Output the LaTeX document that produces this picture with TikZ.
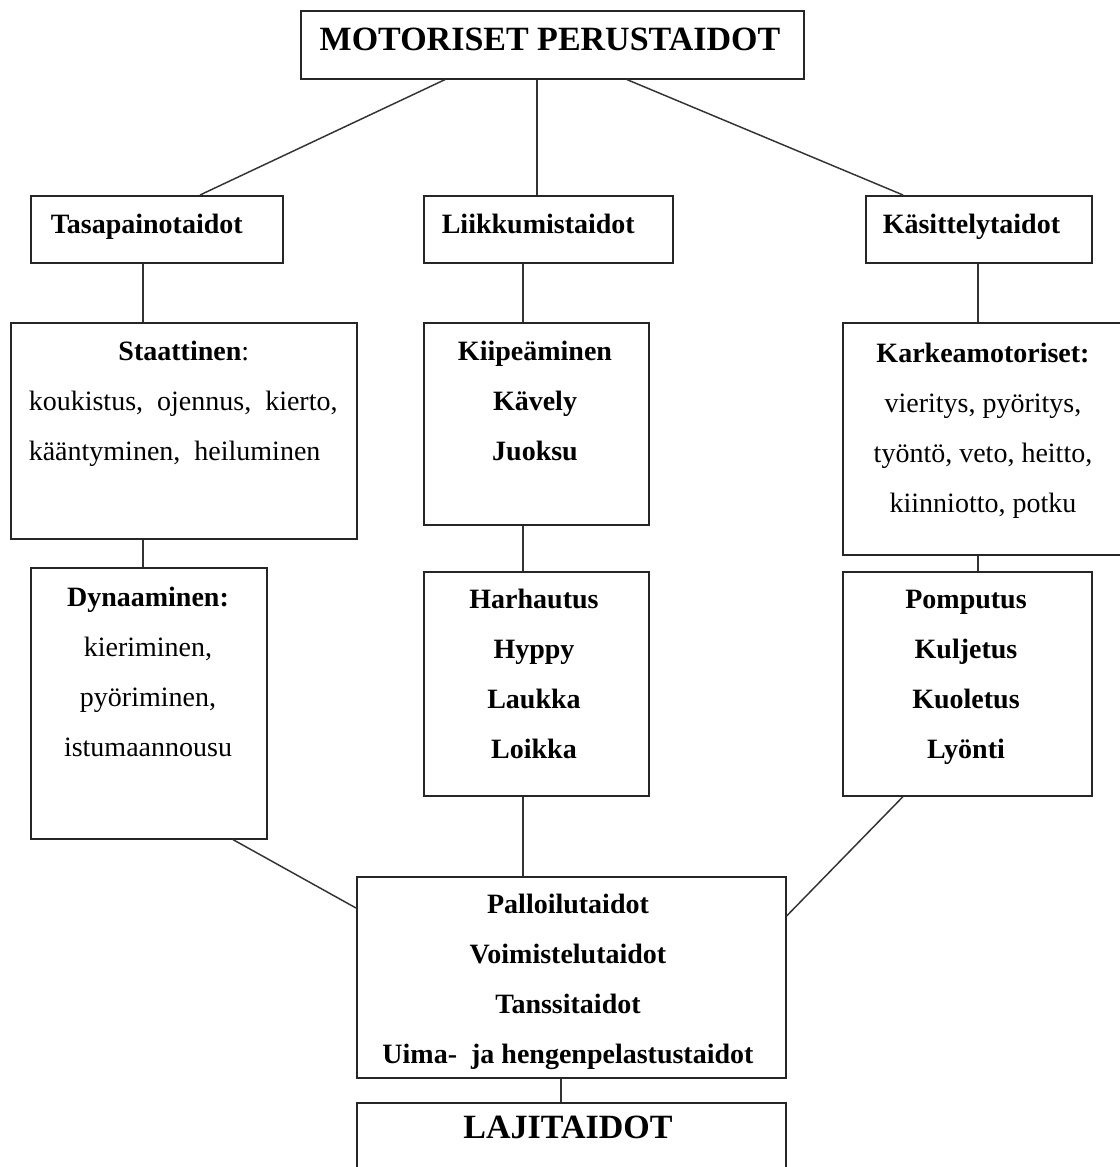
\documentclass[tikz,border=0pt]{standalone}
\usepackage{fontspec}
\setmainfont{Liberation Serif}

\tikzset{every picture/.style={line width=1.2pt}}
\tikzset{
  box/.style={draw=black!85, inner sep=0pt, anchor=north west},
  lbl/.style={inner sep=0pt, align=center, anchor=north, font=\fontsize{21}{37.5}\selectfont},
  head/.style={inner sep=0pt, anchor=base west, font=\fontsize{21}{25}\selectfont\bfseries},
  big/.style={inner sep=0pt, anchor=base, font=\fontsize{25.5}{30}\selectfont\bfseries},
  link/.style={draw=black!80, line width=1.1pt}
}

\begin{document}
\begin{tikzpicture}[x=0.75pt,y=0.75pt,yscale=-1,xscale=1]
\useasboundingbox (0,0) rectangle (1120,1167);

%Shape: Rectangle [top]
\node[box, minimum width=377.25pt, minimum height=51pt] (motor) at (300,10) {};
%Shape: Rectangle [row 2]
\node[box, minimum width=189pt, minimum height=50.25pt] (tasa) at (30,195) {};
\node[box, minimum width=186.75pt, minimum height=50.25pt] (liik) at (423,195) {};
\node[box, minimum width=169.5pt, minimum height=50.25pt] (kasi) at (865,195) {};
%Shape: Rectangle [row 3]
\node[box, minimum width=259.5pt, minimum height=162pt] (staat) at (10,322) {};
\node[box, minimum width=168.75pt, minimum height=151.5pt] (kiip) at (423,322) {};
\node[box, minimum width=216pt, minimum height=174pt] (karkea) at (842,322) {};
%Shape: Rectangle [row 4]
\node[box, minimum width=177pt, minimum height=203.25pt] (dyn) at (30,567) {};
\node[box, minimum width=168.75pt, minimum height=168pt] (harh) at (423,571) {};
\node[box, minimum width=186.75pt, minimum height=168pt] (pomp) at (842,571) {};
%Shape: Rectangle [bottom]
\node[box, minimum width=321.75pt, minimum height=150.75pt] (laji) at (356,876) {};
\node[box, minimum width=321.75pt, minimum height=80pt] (lajit) at (356,1102) {};

%Straight Lines
\draw[link] (motor.south -| 445,0) -- (tasa.north -| 200,0);
\draw[link] (motor.south -| 537,0) -- (liik.north -| 537,0);
\draw[link] (motor.south -| 627,0) -- (kasi.north -| 903,0);
\draw[link] (tasa.south -| 143,0) -- (staat.north -| 143,0);
\draw[link] (liik.south -| 523,0) -- (kiip.north -| 523,0);
\draw[link] (kasi.south -| 978,0) -- (karkea.north -| 978,0);
\draw[link] (staat.south -| 143,0) -- (dyn.north -| 143,0);
\draw[link] (kiip.south -| 523,0) -- (harh.north -| 523,0);
\draw[link] (karkea.south -| 978,0) -- (pomp.north -| 978,0);
\draw[link] (dyn.south -| 233,0) -- (laji.west |- 0,908);
\draw[link] (harh.south -| 523,0) -- (laji.north -| 523,0);
\draw[link] (pomp.south -| 903,0) -- (laji.east |- 0,916);
\draw[link] (laji.south -| 561,0) -- (lajit.north -| 561,0);

% Text Node
\node[big] (tmotor) at (550,50) {MOTORISET PERUSTAIDOT};
% Text Node
\node[head] (ttasa) at (50,233) {Tasapainotaidot};
\node[head] (tliik) at (441,233) {Liikkumistaidot};
\node[head] (tkasi) at (882,233) {Käsittelytaidot};
% Text Node
\node[lbl, align=left, anchor=north west] (tstaat) at (28,325)
  {\makebox[232.5pt]{\strut\textbf{Staattinen}:}\\
   koukistus,\ \ ojennus,\ \ kierto,\\
   kääntyminen,\ \ heiluminen};
\node[lbl, font=\fontsize{21}{37.5}\selectfont\bfseries] (tkiip) at (535,325)
  {\strut Kiipeäminen\\ Kävely\\ Juoksu};
\node[lbl] (tkarkea) at (983,327)
  {\strut\textbf{Karkeamotoriset:}\\ vieritys, pyöritys,\\ työntö, veto, heitto,\\ kiinniotto, potku};
% Text Node
\node[lbl] (tdyn) at (148,571)
  {\strut\textbf{Dynaaminen:}\\ kieriminen,\\ pyöriminen,\\ istumaannousu};
\node[lbl, font=\fontsize{21}{37.5}\selectfont\bfseries] (tharh) at (534,573)
  {\strut Harhautus\\ Hyppy\\ Laukka\\ Loikka};
\node[lbl, font=\fontsize{21}{37.5}\selectfont\bfseries] (tpomp) at (966,573)
  {\strut Pomputus\\ Kuljetus\\ Kuoletus\\ Lyönti};
% Text Node
\node[lbl, font=\fontsize{21}{37.5}\selectfont\bfseries] (tlaji) at (568,878)
  {\strut Palloilutaidot\\ Voimistelutaidot\\ Tanssitaidot\\ Uima-\ \ ja hengenpelastustaidot};
\node[big] (tlajit) at (568,1138) {LAJITAIDOT};

\end{tikzpicture}
\end{document}
